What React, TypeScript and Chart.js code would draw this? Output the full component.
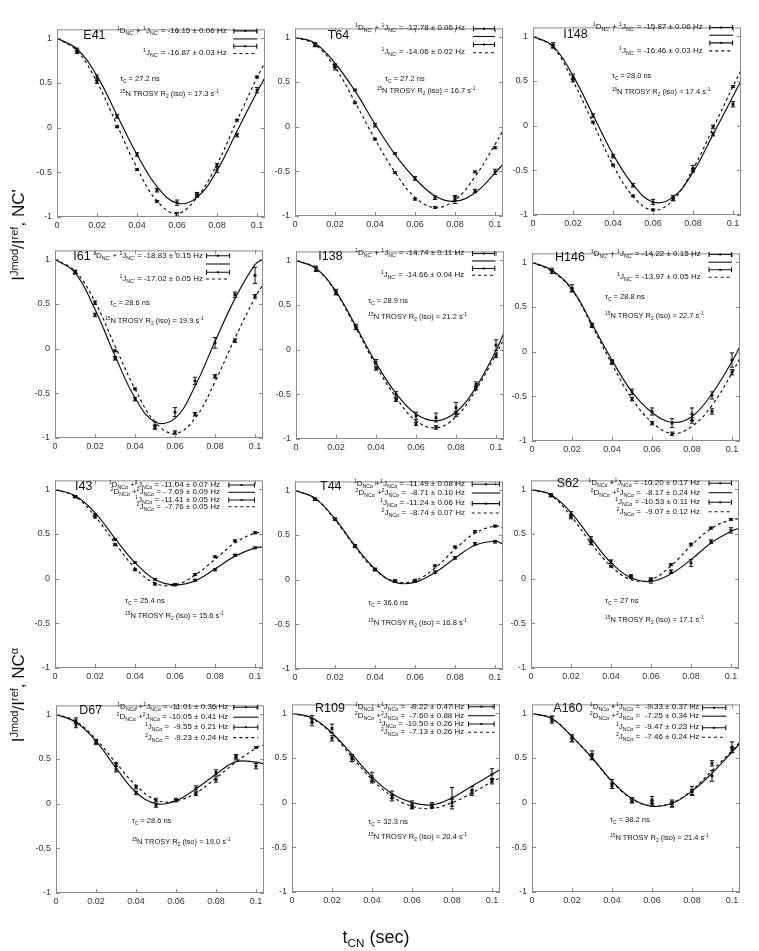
import React, { useEffect, useRef } from "react";
import { Chart, registerables } from "chart.js";

Chart.register(...registerables);

// ---------------- data ----------------
const tFit = [0, 0.01, 0.02, 0.03, 0.04, 0.05, 0.06, 0.07, 0.08, 0.09, 0.1, 0.104];
const tObs = [0.01, 0.02, 0.03, 0.04, 0.05, 0.06, 0.07, 0.08, 0.09, 0.1];
const xTicks = [0, 0.02, 0.04, 0.06, 0.08, 0.1];
const yTicks = [-1, -0.5, 0, 0.5, 1];

const residues = ["E41", "T64", "I148", "I61", "I138", "H146", "I43", "T44", "S62", "D67", "R109", "A160"];
const tauC = ["27.2", "27.2", "28.0", "28.6", "28.9", "28.8", "25.4", "36.6", "27", "28.6", "32.3", "38.2"];
const trosyR2 = ["17.3", "16.7", "17.4", "19.9", "21.2", "22.7", "15.6", "16.8", "17.1", "19.0", "20.4", "21.4"];

// NC' panels (first 6): 1D+1J and 1J
const ncpDJ = ["-16.15 ± 0.06", "-12.78 ± 0.06", "-15.87 ± 0.06", "-18.83 ± 0.15", "-14.74 ± 0.11", "-14.22 ± 0.15"];
const ncpJ = ["-16.87 ± 0.03", "-14.06 ± 0.02", "-16.46 ± 0.03", "-17.02 ± 0.05", "-14.66 ± 0.04", "-13.97 ± 0.05"];
// NCa panels (last 6)
const ncaDJ1 = ["-11.04 ± 0.07", "-11.49 ± 0.08", "-10.20 ± 0.17", "-11.01 ± 0.36", " -9.22 ± 0.47", " -9.33 ± 0.37"];
const ncaDJ2 = ["- 7.69 ± 0.09", " -8.71 ± 0.10", " -8.17 ± 0.24", "-10.05 ± 0.41", " -7.60 ± 0.88", " -7.25 ± 0.34"];
const ncaJ1 = ["-11.41 ± 0.05", "-11.24 ± 0.06", "-10.53 ± 0.11", " -9.55 ± 0.21", "-10.50 ± 0.26", " -9.47 ± 0.23"];
const ncaJ2 = [" -7.76 ± 0.05", " -8.74 ± 0.07", " -9.07 ± 0.12", " -9.23 ± 0.24", " -7.13 ± 0.26", " -7.46 ± 0.24"];

// E41
const e41FitA = [1, 0.88, 0.58, 0.14, -0.3, -0.66, -0.845, -0.78, -0.48, -0.04, 0.4, 0.56];
const e41FitB = [1, 0.86, 0.51, 0.03, -0.45, -0.82, -0.96, -0.78, -0.41, 0.08, 0.56, 0.73];
const e41PtsA = [0.87, 0.56, 0.126, -0.3, -0.7, -0.84, -0.76, -0.47, -0.083, 0.42];
const e41ErrA = [0.02, 0.03, 0.02, 0.02, 0.02, 0.03, 0.02, 0.03, 0.02, 0.03];
const e41PtsB = [0.85, 0.515, 0.01, -0.47, -0.825, -0.97, -0.745, -0.42, 0.083, 0.567];
const e41ErrB = [0.02, 0.02, 0.01, 0.01, 0.01, 0.02, 0.02, 0.02, 0.01, 0.01];
// T64
const t64FitA = [1, 0.935, 0.71, 0.4, 0.03, -0.31, -0.58, -0.775, -0.835, -0.74, -0.52, -0.42];
const t64FitB = [1, 0.92, 0.665, 0.275, -0.14, -0.51, -0.79, -0.905, -0.82, -0.56, -0.2, -0.04];
const t64PtsA = [0.92, 0.683, 0.41, 0.016, -0.3, -0.58, -0.795, -0.82, -0.72, -0.506];
const t64ErrA = [0.02, 0.02, 0.01, 0.02, 0.01, 0.02, 0.02, 0.04, 0.02, 0.03];
const t64PtsB = [0.915, 0.665, 0.268, -0.139, -0.514, -0.812, -0.903, -0.8, -0.506, -0.236];
const t64ErrB = [0.02, 0.03, 0.01, 0.01, 0.01, 0.01, 0.01, 0.03, 0.01, 0.01];
// I148
const i148FitA = [1, 0.89, 0.56, 0.12, -0.32, -0.66, -0.855, -0.8, -0.52, -0.1, 0.33, 0.5];
const i148FitB = [1, 0.88, 0.5, 0.03, -0.44, -0.79, -0.945, -0.835, -0.485, -0.03, 0.44, 0.62];
const i148PtsA = [0.9, 0.547, 0.112, -0.34, -0.667, -0.855, -0.81, -0.475, -0.094, 0.24];
const i148ErrA = [0.03, 0.03, 0.02, 0.02, 0.02, 0.03, 0.03, 0.03, 0.02, 0.03];
const i148PtsB = [0.89, 0.51, 0.04, -0.44, -0.786, -0.942, -0.82, -0.5, -0.014, 0.438];
const i148ErrB = [0.02, 0.02, 0.01, 0.01, 0.01, 0.01, 0.02, 0.02, 0.02, 0.01];
// I61
const i61FitA = [1, 0.85, 0.44, -0.08, -0.55, -0.82, -0.78, -0.42, 0.08, 0.56, 0.94, 1.0];
const i61FitB = [1, 0.87, 0.525, 0.03, -0.45, -0.82, -0.95, -0.78, -0.37, 0.12, 0.57, 0.72];
const i61PtsA = [0.855, 0.378, -0.108, -0.565, -0.86, -0.71, -0.36, 0.065, 0.604, 0.82];
const i61ErrA = [0.02, 0.02, 0.02, 0.02, 0.04, 0.05, 0.04, 0.06, 0.03, 0.09];
const i61PtsB = [0.86, 0.514, -0.025, -0.45, -0.88, -0.94, -0.734, -0.31, 0.09, 0.586];
const i61ErrB = [0.02, 0.02, 0.01, 0.01, 0.02, 0.02, 0.02, 0.02, 0.02, 0.02];
// I138
const i138FitA = [1, 0.91, 0.65, 0.26, -0.15, -0.49, -0.72, -0.795, -0.7, -0.42, -0.01, 0.19];
const i138FitB = [1, 0.91, 0.64, 0.24, -0.18, -0.535, -0.795, -0.875, -0.75, -0.45, -0.05, 0.12];
const i138PtsA = [0.906, 0.645, 0.255, -0.14, -0.5, -0.74, -0.76, -0.65, -0.39, 0.05];
const i138ErrA = [0.03, 0.03, 0.03, 0.03, 0.03, 0.04, 0.05, 0.06, 0.03, 0.06];
const i138PtsB = [0.9, 0.635, 0.245, -0.21, -0.56, -0.83, -0.87, -0.72, -0.43, -0.067];
const i138ErrB = [0.02, 0.02, 0.02, 0.02, 0.02, 0.02, 0.02, 0.03, 0.02, 0.02];
// H146
const h146FitA = [1, 0.91, 0.7, 0.31, -0.095, -0.45, -0.68, -0.79, -0.725, -0.47, -0.11, 0.06];
const h146FitB = [1, 0.9, 0.69, 0.29, -0.14, -0.527, -0.79, -0.915, -0.835, -0.6, -0.238, -0.07];
const h146PtsA = [0.905, 0.71, 0.3, -0.11, -0.45, -0.67, -0.8, -0.7, -0.49, -0.094];
const h146ErrA = [0.03, 0.04, 0.02, 0.02, 0.03, 0.04, 0.05, 0.07, 0.04, 0.08];
const h146PtsB = [0.895, 0.69, 0.29, -0.12, -0.53, -0.8, -0.92, -0.77, -0.67, -0.23];
const h146ErrB = [0.02, 0.02, 0.02, 0.02, 0.02, 0.02, 0.02, 0.03, 0.03, 0.03];
// I43
const i43FitA = [1, 0.93, 0.74, 0.45, 0.18, -0.01, -0.07, -0.025, 0.108, 0.252, 0.345, 0.355];
const i43FitB = [1, 0.92, 0.7, 0.4, 0.12, -0.05, -0.07, 0.04, 0.216, 0.4, 0.51, 0.52];
const i43PtsA = [0.92, 0.72, 0.44, 0.18, -0.007, -0.07, -0.018, 0.1, 0.263, 0.345];
const i43ErrA = [0.01, 0.01, 0.01, 0.01, 0.01, 0.01, 0.01, 0.01, 0.01, 0.01];
const i43PtsB = [0.915, 0.69, 0.38, 0.1, -0.06, -0.065, 0.047, 0.245, 0.424, 0.514];
const i43ErrB = [0.01, 0.01, 0.01, 0.01, 0.01, 0.01, 0.01, 0.01, 0.01, 0.01];
// T44
const t44FitA = [1, 0.91, 0.68, 0.38, 0.12, -0.03, -0.03, 0.08, 0.24, 0.385, 0.43, 0.4];
const t44FitB = [1, 0.91, 0.67, 0.37, 0.11, -0.02, -0.01, 0.13, 0.34, 0.52, 0.6, 0.58];
const t44PtsA = [0.9, 0.676, 0.378, 0.115, -0.015, -0.01, 0.083, 0.245, 0.4, 0.425];
const t44ErrA = [0.015, 0.015, 0.015, 0.015, 0.015, 0.015, 0.015, 0.015, 0.015, 0.015];
const t44PtsB = [0.9, 0.676, 0.37, 0.11, -0.02, -0.015, 0.155, 0.367, 0.54, 0.6];
const t44ErrB = [0.01, 0.01, 0.01, 0.01, 0.01, 0.01, 0.01, 0.01, 0.01, 0.01];
// S62
const s62FitA = [1, 0.94, 0.74, 0.45, 0.18, 0.01, -0.03, 0.054, 0.213, 0.4, 0.53, 0.565];
const s62FitB = [1, 0.93, 0.7, 0.4, 0.14, -0.01, -0.01, 0.144, 0.368, 0.56, 0.66, 0.67];
const s62PtsA = [0.935, 0.72, 0.44, 0.19, 0.025, -0.02, 0.079, 0.177, 0.415, 0.54];
const s62ErrA = [0.02, 0.03, 0.03, 0.02, 0.02, 0.03, 0.02, 0.04, 0.02, 0.03];
const s62PtsB = [0.93, 0.69, 0.4, 0.14, 0.02, -0.01, 0.159, 0.386, 0.567, 0.664];
const s62ErrB = [0.01, 0.02, 0.02, 0.01, 0.01, 0.01, 0.01, 0.01, 0.01, 0.01];
// D67
const d67FitA = [1, 0.91, 0.7, 0.4, 0.128, 0.0, 0.034, 0.168, 0.33, 0.47, 0.465, 0.445];
const d67FitB = [1, 0.92, 0.72, 0.457, 0.204, 0.04, 0.03, 0.12, 0.287, 0.465, 0.62, 0.66];
const d67PtsA = [0.93, 0.69, 0.385, 0.12, -0.02, 0.04, 0.17, 0.35, 0.52, 0.42];
const d67ErrA = [0.03, 0.03, 0.03, 0.02, 0.02, 0.02, 0.03, 0.03, 0.03, 0.03];
const d67PtsB = [0.88, 0.695, 0.44, 0.186, 0.04, 0.035, 0.11, 0.27, 0.53, 0.63];
const d67ErrB = [0.03, 0.02, 0.02, 0.02, 0.02, 0.01, 0.02, 0.03, 0.02, 0.01];
// R109
const r109FitA = [1, 0.95, 0.78, 0.54, 0.288, 0.1, 0.0, -0.025, 0.054, 0.187, 0.317, 0.37];
const r109FitB = [1, 0.94, 0.77, 0.51, 0.26, 0.07, -0.04, -0.065, 0.0, 0.108, 0.234, 0.28];
const r109PtsA = [0.935, 0.83, 0.5, 0.29, 0.09, -0.02, -0.03, 0.05, 0.14, 0.32];
const r109ErrA = [0.04, 0.05, 0.04, 0.05, 0.04, 0.04, 0.03, 0.12, 0.04, 0.06];
const r109PtsB = [0.9, 0.72, 0.49, 0.25, 0.05, -0.05, -0.035, 0.0, 0.11, 0.24];
const r109ErrB = [0.04, 0.03, 0.03, 0.03, 0.03, 0.02, 0.02, 0.04, 0.03, 0.03];
// A160
const a160FitA = [1, 0.94, 0.74, 0.503, 0.24, 0.045, -0.04, -0.009, 0.13, 0.33, 0.567, 0.665];
const a160FitB = [1, 0.94, 0.74, 0.5, 0.235, 0.04, -0.035, 0.0, 0.14, 0.36, 0.58, 0.68];
const a160PtsA = [0.93, 0.72, 0.53, 0.21, 0.027, 0.03, -0.01, 0.13, 0.3, 0.62];
const a160ErrA = [0.04, 0.04, 0.05, 0.05, 0.03, 0.04, 0.04, 0.05, 0.06, 0.06];
const a160PtsB = [0.935, 0.715, 0.52, 0.19, 0.02, -0.01, -0.015, 0.12, 0.44, 0.59];
const a160ErrB = [0.03, 0.03, 0.03, 0.03, 0.02, 0.03, 0.03, 0.03, 0.03, 0.03];

const panelData = [
  { fitA: e41FitA, fitB: e41FitB, ptsA: e41PtsA, errA: e41ErrA, ptsB: e41PtsB, errB: e41ErrB },
  { fitA: t64FitA, fitB: t64FitB, ptsA: t64PtsA, errA: t64ErrA, ptsB: t64PtsB, errB: t64ErrB },
  { fitA: i148FitA, fitB: i148FitB, ptsA: i148PtsA, errA: i148ErrA, ptsB: i148PtsB, errB: i148ErrB },
  { fitA: i61FitA, fitB: i61FitB, ptsA: i61PtsA, errA: i61ErrA, ptsB: i61PtsB, errB: i61ErrB },
  { fitA: i138FitA, fitB: i138FitB, ptsA: i138PtsA, errA: i138ErrA, ptsB: i138PtsB, errB: i138ErrB },
  { fitA: h146FitA, fitB: h146FitB, ptsA: h146PtsA, errA: h146ErrA, ptsB: h146PtsB, errB: h146ErrB },
  { fitA: i43FitA, fitB: i43FitB, ptsA: i43PtsA, errA: i43ErrA, ptsB: i43PtsB, errB: i43ErrB },
  { fitA: t44FitA, fitB: t44FitB, ptsA: t44PtsA, errA: t44ErrA, ptsB: t44PtsB, errB: t44ErrB },
  { fitA: s62FitA, fitB: s62FitB, ptsA: s62PtsA, errA: s62ErrA, ptsB: s62PtsB, errB: s62ErrB },
  { fitA: d67FitA, fitB: d67FitB, ptsA: d67PtsA, errA: d67ErrA, ptsB: d67PtsB, errB: d67ErrB },
  { fitA: r109FitA, fitB: r109FitB, ptsA: r109PtsA, errA: r109ErrA, ptsB: r109PtsB, errB: r109ErrB },
  { fitA: a160FitA, fitB: a160FitB, ptsA: a160PtsA, errA: a160ErrA, ptsB: a160PtsB, errB: a160ErrB },
];

// ---------------- layout (page pixels) ----------------
const X_MAX = 0.104;
const PLOT_W = 208;
const PLOT_H = 194;
const AX_W = 32;
const AX_H = 18;
const PAD_T = 4;
const PAD_R = 4;
const FONT = '"Liberation Sans", Arial, Helvetica, sans-serif';

type PanelLayout = {
  x0: number; top: number;
  lab: [number, number];
  rows: number[]; textRight: number; sx: [number, number];
  tau: [number, number]; tro: [number, number];
};

const layout: PanelLayout[] = [
  { x0: 57, top: 22.8, lab: [83.3, 35], rows: [30.7, 38.7, 46, 53.3], textRight: 226.7, sx: [233.3, 257.3], tau: [120, 79.3], tro: [120, 94.3] },
  { x0: 295, top: 21.5, lab: [327.7, 35], rows: [28.3, 36, 44, 52.3], textRight: 465, sx: [473, 495], tau: [385, 79.3], tro: [376.7, 90.7] },
  { x0: 532.7, top: 20.8, lab: [563.3, 34], rows: [27.3, 35, 42.7, 50.7], textRight: 702.7, sx: [709, 732.7], tau: [611.7, 75.7], tro: [611.7, 91.7] },
  { x0: 55, top: 244, lab: [73.3, 256], rows: [255.7, 264, 272.3, 279], textRight: 203, sx: [206, 230], tau: [110, 302.7], tro: [105, 320.7] },
  { x0: 295.7, top: 244.75, lab: [318.3, 256], rows: [253.3, 260.7, 268.3, 275], textRight: 464.3, sx: [471.7, 495], tau: [368.3, 301], tro: [368.3, 317.3] },
  { x0: 531.7, top: 246.5, lab: [555, 257.3], rows: [254, 261.7, 269.3, 276.7], textRight: 700.7, sx: [708.3, 731.7], tau: [605, 297.3], tro: [605, 315.7] },
  { x0: 55, top: 474, lab: [75, 485.5], rows: [485, 492.3, 500, 506.7], textRight: 220, sx: [228.3, 255], tau: [125, 600.7], tro: [125, 616] },
  { x0: 295, top: 474.7, lab: [320, 485.8], rows: [484, 492.7, 503.3, 512.7], textRight: 465, sx: [471.7, 500], tau: [368.3, 603.3], tro: [368.3, 623.3] },
  { x0: 530.7, top: 474, lab: [556.7, 483.3], rows: [483.3, 492.7, 502.3, 511.7], textRight: 700, sx: [708.3, 731.7], tau: [605, 601], tro: [605, 620] },
  { x0: 56, top: 699.1, lab: [79.3, 709.5], rows: [707.3, 717.3, 727.3, 737.7], textRight: 228.3, sx: [233.3, 258.3], tau: [131.7, 820.7], tro: [131.7, 841.7] },
  { x0: 292.3, top: 698, lab: [315, 708], rows: [706.7, 715.7, 724, 732.3], textRight: 464.3, sx: [468.3, 495], tau: [368.3, 822.3], tro: [368.3, 837.3] },
  { x0: 531.7, top: 697.5, lab: [553.3, 707.7], rows: [707.3, 715.7, 727.3, 736.7], textRight: 699.3, sx: [701.7, 726], tau: [610, 820], tro: [610, 838.3] },
];

// ---------------- plugins ----------------
const framePlugin = {
  id: "frame",
  afterDraw(chart: any) {
    const { ctx, chartArea } = chart;
    const { left, right, top, bottom } = chartArea;
    const xs = chart.scales.x, ys = chart.scales.y;
    ctx.save();
    ctx.strokeStyle = "#8a8a8a";
    ctx.lineWidth = 1;
    ctx.strokeRect(left + 0.5, top + 0.5, right - left - 1, bottom - top - 1);
    ctx.beginPath();
    const tl = 4;
    xTicks.forEach((v) => {
      const px = Math.round(xs.getPixelForValue(v)) + 0.5;
      ctx.moveTo(px, bottom); ctx.lineTo(px, bottom - tl);
      ctx.moveTo(px, top); ctx.lineTo(px, top + tl);
    });
    yTicks.forEach((v) => {
      const py = Math.round(ys.getPixelForValue(v)) + 0.5;
      ctx.moveTo(left, py); ctx.lineTo(left + tl, py);
      ctx.moveTo(right, py); ctx.lineTo(right - tl, py);
    });
    ctx.stroke();
    ctx.restore();
  },
};

const errorBarPlugin = {
  id: "errbars",
  afterDatasetsDraw(chart: any) {
    const { ctx } = chart;
    const xs = chart.scales.x, ys = chart.scales.y;
    ctx.save();
    ctx.strokeStyle = "#111";
    ctx.lineWidth = 1;
    chart.data.datasets.forEach((ds: any) => {
      if (!ds.errors) return;
      ds.data.forEach((p: any, i: number) => {
        const e = ds.errors[i];
        const px = xs.getPixelForValue(p.x);
        const y1 = ys.getPixelForValue(p.y + e);
        const y2 = ys.getPixelForValue(p.y - e);
        ctx.beginPath();
        ctx.moveTo(px, y1); ctx.lineTo(px, y2);
        ctx.moveTo(px - 2.2, y1); ctx.lineTo(px + 2.2, y1);
        ctx.moveTo(px - 2.2, y2); ctx.lineTo(px + 2.2, y2);
        ctx.stroke();
      });
    });
    ctx.restore();
  },
};

function makeSamplePlugin(rows: number[], x1: number, x2: number) {
  return {
    id: "samples",
    afterDraw(chart: any) {
      const ctx = chart.ctx;
      ctx.save();
      ctx.strokeStyle = "#111";
      ctx.fillStyle = "#111";
      ctx.lineWidth = 1.1;
      const kinds = ["err", "solid", "err", "dash"];
      rows.forEach((y, i) => {
        const k = kinds[i];
        ctx.beginPath();
        ctx.setLineDash(k === "dash" ? [3, 3] : []);
        ctx.moveTo(x1, y); ctx.lineTo(x2, y);
        if (k === "err") {
          ctx.moveTo(x1 + 0.5, y - 2.5); ctx.lineTo(x1 + 0.5, y + 2.5);
          ctx.moveTo(x2 - 0.5, y - 2.5); ctx.lineTo(x2 - 0.5, y + 2.5);
        }
        ctx.stroke();
        if (k === "err") ctx.fillRect((x1 + x2) / 2 - 1, y - 1, 2, 2);
      });
      ctx.setLineDash([]);
      ctx.restore();
    },
  };
}

// ---------------- components ----------------
const Sup = ({ children }: { children: React.ReactNode }) => (
  <span style={{ fontSize: "0.65em", verticalAlign: "0.55em", lineHeight: 0 }}>{children}</span>
);
const Sub = ({ children }: { children: React.ReactNode }) => (
  <span style={{ fontSize: "0.65em", verticalAlign: "-0.35em", lineHeight: 0 }}>{children}</span>
);

function Txt({ x, y, right, size, children }: { x: number; y: number; right?: boolean; size: number; children: React.ReactNode }) {
  return (
    <div
      style={{
        position: "absolute",
        left: x,
        top: y,
        transform: right ? "translate(-100%, -50%)" : "translate(0, -50%)",
        fontFamily: FONT,
        fontSize: size,
        lineHeight: "10px",
        whiteSpace: "pre",
        color: "#111",
      }}
    >
      {children}
    </div>
  );
}

function Panel({ idx }: { idx: number }) {
  const ref = useRef<HTMLCanvasElement>(null);
  const L = layout[idx];
  const cl = L.x0 - AX_W;
  const ct = L.top - PAD_T;
  const cw = AX_W + PLOT_W + PAD_R;
  const ch = PAD_T + PLOT_H + AX_H;

  useEffect(() => {
    const d = panelData[idx];
    const tickFont = { family: FONT, size: 9 };
    const chart = new Chart(ref.current as HTMLCanvasElement, {
      type: "scatter",
      data: {
        datasets: [
          { data: tFit.map((t, i) => ({ x: t, y: d.fitA[i] })), showLine: true, borderColor: "#111", borderWidth: 1.2, pointRadius: 0, tension: 0.4, fill: false } as any,
          { data: tFit.map((t, i) => ({ x: t, y: d.fitB[i] })), showLine: true, borderColor: "#111", borderWidth: 1.2, borderDash: [3, 3], pointRadius: 0, tension: 0.4, fill: false } as any,
          { data: tObs.map((t, i) => ({ x: t, y: d.ptsA[i] })), errors: d.errA, pointStyle: "rect", pointRadius: 2, backgroundColor: "#111", borderColor: "#111", borderWidth: 0 } as any,
          { data: tObs.map((t, i) => ({ x: t, y: d.ptsB[i] })), errors: d.errB, pointStyle: "rect", pointRadius: 2, backgroundColor: "#111", borderColor: "#111", borderWidth: 0 } as any,
        ],
      },
      options: {
        responsive: false,
        animation: false,
        devicePixelRatio: 1,
        layout: { padding: { left: 0, right: PAD_R, top: PAD_T, bottom: 0 } },
        plugins: { legend: { display: false }, tooltip: { enabled: false } },
        events: [],
        scales: {
          x: {
            type: "linear",
            min: 0,
            max: X_MAX,
            afterBuildTicks: (s: any) => { s.ticks = xTicks.map((v) => ({ value: v })); },
            afterFit: (s: any) => { s.height = AX_H; },
            grid: { display: false, drawTicks: false },
            border: { display: false },
            ticks: { padding: 3, font: tickFont, color: "#333", maxRotation: 0, autoSkip: false, callback: (v: any) => String(v) },
          },
          y: {
            type: "linear",
            min: -1,
            max: 1.1,
            afterBuildTicks: (s: any) => { s.ticks = yTicks.map((v) => ({ value: v })); },
            afterFit: (s: any) => { s.width = AX_W; },
            grid: { display: false, drawTicks: false },
            border: { display: false },
            ticks: { padding: 5, font: tickFont, color: "#333", autoSkip: false, callback: (v: any) => String(v) },
          },
        },
      } as any,
      plugins: [framePlugin, errorBarPlugin, makeSamplePlugin(L.rows.map((y) => y - ct), L.sx[0] - cl, L.sx[1] - cl)],
    });
    return () => chart.destroy();
  }, [idx]);

  const isNCp = idx < 6;
  const k = isNCp ? idx : idx - 6;
  const legFs = 8;
  const sub = isNCp ? "NC'" : "NCα";

  return (
    <>
      <canvas ref={ref} width={cw} height={ch} style={{ position: "absolute", left: cl, top: ct, width: cw, height: ch }} />
      <Txt x={L.lab[0]} y={L.lab[1]} size={12.5}>{residues[idx]}</Txt>
      {isNCp ? (
        <>
          <Txt x={L.textRight} y={L.rows[0]} right size={legFs}>
            <Sup>1</Sup>D<Sub>{sub}</Sub> + <Sup>1</Sup>J<Sub>{sub}</Sub> = {ncpDJ[k]} Hz
          </Txt>
          <Txt x={L.textRight} y={L.rows[3]} right size={legFs}>
            <Sup>1</Sup>J<Sub>{sub}</Sub> = {ncpJ[k]} Hz
          </Txt>
        </>
      ) : (
        <>
          <Txt x={L.textRight} y={L.rows[0]} right size={legFs}>
            <Sup>1</Sup>D<Sub>{sub}</Sub> +<Sup>1</Sup>J<Sub>{sub}</Sub> = {ncaDJ1[k]} Hz
          </Txt>
          <Txt x={L.textRight} y={L.rows[1]} right size={legFs}>
            <Sup>2</Sup>D<Sub>{sub}</Sub> +<Sup>2</Sup>J<Sub>{sub}</Sub> = {ncaDJ2[k]} Hz
          </Txt>
          <Txt x={L.textRight} y={L.rows[2]} right size={legFs}>
            <Sup>1</Sup>J<Sub>{sub}</Sub> = {ncaJ1[k]} Hz
          </Txt>
          <Txt x={L.textRight} y={L.rows[3]} right size={legFs}>
            <Sup>2</Sup>J<Sub>{sub}</Sub> = {ncaJ2[k]} Hz
          </Txt>
        </>
      )}
      <Txt x={L.tau[0]} y={L.tau[1]} size={7.5}>
        τ<Sub>C</Sub> = {tauC[idx]} ns
      </Txt>
      <Txt x={L.tro[0]} y={L.tro[1]} size={7.5}>
        <Sup>15</Sup>N TROSY R<Sub>2</Sub> (iso) = {trosyR2[idx]} s<Sup>-1</Sup>
      </Txt>
    </>
  );
}

function YTitle({ cx, cy, children }: { cx: number; cy: number; children: React.ReactNode }) {
  return (
    <div
      style={{
        position: "absolute",
        left: cx,
        top: cy,
        transform: "translate(-50%, -50%) rotate(-90deg)",
        fontFamily: FONT,
        fontSize: 17,
        whiteSpace: "pre",
        lineHeight: "20px",
        color: "#111",
      }}
    >
      {children}
    </div>
  );
}

export default function App() {
  return (
    <div style={{ position: "absolute", left: 0, top: 0, width: 759, height: 951, background: "#fff", overflow: "hidden" }}>
      {panelData.map((_, i) => (
        <Panel key={i} idx={i} />
      ))}
      <YTitle cx={19} cy={235}>
        I<Sup>Jmod</Sup>/I<Sup>ref</Sup>, NC'
      </YTitle>
      <YTitle cx={19} cy={695}>
        I<Sup>Jmod</Sup>/I<Sup>ref</Sup>, NC<Sup>α</Sup>
      </YTitle>
      <div
        style={{
          position: "absolute",
          left: 376,
          top: 937,
          transform: "translate(-50%, -50%)",
          fontFamily: FONT,
          fontSize: 18,
          whiteSpace: "pre",
          lineHeight: "20px",
          color: "#111",
        }}
      >
        t<Sub>CN</Sub> (sec)
      </div>
    </div>
  );
}
